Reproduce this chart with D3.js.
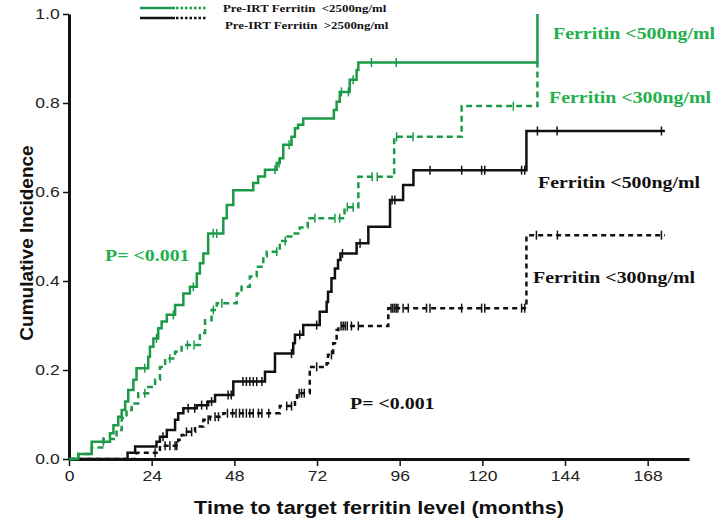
<!DOCTYPE html>
<html>
<head>
<meta charset="utf-8">
<script src="https://d3js.org/d3.v7.min.js"></script>
<style>
    body { margin: 0; background: #fff; }
</style>
</head>
<body>
<div id="canvas"></div>
<script>
"use strict"

/* data: step times (months), cumulative incidence, censor times */
let greenSolidT = [0, 2.7, 6.6, 11.9, 12.9, 14.3, 15.3, 16.3, 17.2, 18.7, 19.6, 23, 23.5, 24.5, 25.9, 26.9, 28.4, 30.8, 33.2, 35.1, 37.1, 38, 39, 40.4, 44.8, 45.8, 47.7, 53.5, 54.9, 56.9, 60.3, 61.2, 62.2, 64.6, 65.6, 66.5, 68, 76.9, 77.7, 78.6, 81.5, 83.5, 84, 136];
let greenSolidV = [0, 0.011, 0.039, 0.058, 0.076, 0.095, 0.11, 0.129, 0.155, 0.178, 0.204, 0.23, 0.252, 0.271, 0.294, 0.309, 0.324, 0.346, 0.372, 0.387, 0.417, 0.44, 0.462, 0.507, 0.541, 0.571, 0.604, 0.62, 0.635, 0.65, 0.665, 0.676, 0.706, 0.724, 0.743, 0.751, 0.765, 0.784, 0.803, 0.825, 0.852, 0.874, 0.891, 1.0];
let greenSolidCens = [10, 22, 25.4, 30.3, 36.1, 41.9, 42.9, 59.8, 61, 63.9, 79.1, 81.1, 82.5, 87.8, 95];

let greenDashT = [0, 2.7, 6.6, 10, 13.8, 15.3, 16.7, 18.2, 20.1, 23, 25, 26.4, 27.9, 30.8, 32.7, 38, 39.5, 41.4, 42.9, 48.7, 50.1, 52.5, 54.5, 56.4, 57.4, 61.2, 63.5, 65.1, 67, 69.3, 80, 84, 94.4, 114, 136];
let greenDashV = [0, 0.011, 0.026, 0.045, 0.065, 0.092, 0.11, 0.125, 0.148, 0.162, 0.178, 0.207, 0.226, 0.241, 0.256, 0.283, 0.312, 0.335, 0.35, 0.372, 0.387, 0.41, 0.432, 0.455, 0.466, 0.49, 0.5, 0.507, 0.52, 0.541, 0.566, 0.634, 0.724, 0.793, 0.891];
let greenDashCens = [22, 29.3, 34.4, 36.3, 41.9, 44.4, 60.3, 62.8, 71.4, 77.2, 78.6, 80.8, 82.5, 88, 89.5, 95.1, 99.9, 129];

let blackSolidT = [0, 17, 19.2, 25.4, 26.4, 28.4, 30.8, 31.7, 33.2, 37.1, 40.4, 42.4, 47.7, 56.9, 59.8, 65.1, 65.6, 68, 72.8, 74.8, 75.2, 76.2, 77.2, 78.1, 78.8, 83.5, 86.9, 93.2, 97, 100, 132.8, 173];
let blackSolidV = [0, 0.014, 0.028, 0.039, 0.05, 0.065, 0.088, 0.103, 0.114, 0.121, 0.129, 0.144, 0.174, 0.196, 0.237, 0.26, 0.279, 0.301, 0.331, 0.353, 0.376, 0.406, 0.428, 0.447, 0.462, 0.485, 0.522, 0.582, 0.616, 0.649, 0.737, 0.737];
let blackSolidCens = [27.3, 34.6, 36.5, 38.5, 40, 41.4, 46.2, 47.1, 50.5, 51.5, 52.5, 53.5, 54.5, 56, 64.6, 67, 71.9, 79.4, 84.5, 93.8, 94.6, 104.8, 114, 119.8, 120.7, 131.4, 132.3, 136, 141.7, 172];

let blackDashT = [0, 19.6, 26.4, 31.7, 32.7, 33.5, 36.6, 39, 40.9, 44.8, 61.2, 65.6, 66.2, 69.9, 74.8, 75.2, 76.7, 77.7, 78.2, 92.7, 132.8, 173];
let blackDashV = [0, 0.014, 0.03, 0.043, 0.054, 0.061, 0.073, 0.088, 0.095, 0.103, 0.119, 0.133, 0.148, 0.207, 0.215, 0.234, 0.26, 0.29, 0.299, 0.339, 0.503, 0.503];
let blackDashCens = [25, 27.9, 29.3, 30.8, 31.3, 34.1, 35.6, 40.4, 42.4, 43.4, 46, 47.5, 48.5, 49.5, 50.5, 51.5, 52.5, 53.5, 55, 56, 58, 63.2, 64.6, 66.8, 67.5, 68.3, 71.9, 76.2, 79, 79.6, 80.2, 80.8, 82, 84, 93.5, 94, 94.5, 95, 95.5, 97, 98.5, 103.8, 104.8, 114, 119.8, 120.7, 131.4, 132.3, 135.7, 141.8, 172];

let xTicks = [0, 24, 48, 72, 96, 120, 144, 168];
let yTicks = [0, 0.2, 0.4, 0.6, 0.8, 1.0];

let green = "#1c9a48";
let greenText = "#22b04b";
/* the original picture is a bit wider than tall, so text gets stretched sideways */
let stretch = 1.17;

/* the svg canvas */
let drawing = d3.select("#canvas")
    .append("svg")
    .attr("width", 719)
    .attr("height", 525);

drawing.append("rect")
    .attr("width", 719)
    .attr("height", 525)
    .attr("fill", "white");

/* scales */
let x = d3.scaleLinear().domain([0, 180]).range([69, 689]);
let y = d3.scaleLinear().domain([0, 1]).range([459, 14]);

/* axes */
let xAxis = drawing.append("g")
    .attr("transform", "translate(0,459)")
    .call(d3.axisBottom(x).tickValues(xTicks).tickSize(7).tickSizeOuter(0).tickPadding(4));

let yAxis = drawing.append("g")
    .attr("transform", "translate(69,0)")
    .call(d3.axisLeft(y).tickValues(yTicks).tickFormat(d3.format(".1f")).tickSize(6).tickSizeOuter(0).tickPadding(2));

drawing.selectAll(".domain").attr("stroke", "#111").attr("stroke-width", 3);
drawing.selectAll(".tick line").attr("stroke", "#111").attr("stroke-width", 1.5);
drawing.selectAll(".tick text")
    .attr("font-family", "'Liberation Sans', Arial, sans-serif")
    .attr("font-size", 15)
    .attr("fill", "#222")
    .attr("transform", "scale(" + stretch + ",1)");

/* axis titles */
drawing.append("text")
    .attr("transform", "translate(379,514) scale(" + stretch + ",1)")
    .attr("text-anchor", "middle")
    .attr("font-family", "'Liberation Sans', Arial, sans-serif")
    .attr("font-weight", "bold")
    .attr("font-size", 18.5)
    .attr("fill", "#111")
    .text("Time to target ferritin level (months)");

drawing.append("text")
    .attr("transform", "translate(33,243) rotate(-90)")
    .attr("text-anchor", "middle")
    .attr("font-family", "'Liberation Sans', Arial, sans-serif")
    .attr("font-weight", "bold")
    .attr("font-size", 19)
    .attr("fill", "#111")
    .text("Cumulative Incidence");

/* step curve helper */
let stepLine = d3.line()
    .x(d => x(d[0]))
    .y(d => y(d[1]))
    .curve(d3.curveStepAfter);

function drawCurve(ts, vs, cens, color, dash) {
    let pts = ts.map((t, i) => [t, vs[i]]);
    drawing.append("path")
        .attr("d", stepLine(pts))
        .attr("fill", "none")
        .attr("stroke", color)
        .attr("stroke-width", 2.5)
        .attr("stroke-dasharray", dash);

    // censor ticks sit on the curve value at that time
    drawing.selectAll(null)
        .data(cens)
        .enter()
        .append("line")
        .attr("x1", d => x(d))
        .attr("x2", d => x(d))
        .attr("y1", d => y(vs[d3.bisectRight(ts, d) - 1]) - 4.5)
        .attr("y2", d => y(vs[d3.bisectRight(ts, d) - 1]) + 4.5)
        .attr("stroke", color)
        .attr("stroke-width", 1.5);
}

drawCurve(blackDashT, blackDashV, blackDashCens, "#111", "5,4");
drawCurve(blackSolidT, blackSolidV, blackSolidCens, "#111", null);
drawCurve(greenDashT, greenDashV, greenDashCens, green, "6,4");
drawCurve(greenSolidT, greenSolidV, greenSolidCens, green, null);

/* legend */
let legendRows = [
    { color: green, label: "Pre-IRT Ferritin  <2500ng/ml", ly: 8, tx: 223, ty: 12 },
    { color: "#111", label: "Pre-IRT Ferritin  >2500ng/ml", ly: 18, tx: 225, ty: 29 }
];
legendRows.forEach(r => {
    drawing.append("line")
        .attr("x1", 140).attr("x2", 175)
        .attr("y1", r.ly).attr("y2", r.ly)
        .attr("stroke", r.color).attr("stroke-width", 2.5);
    drawing.append("line")
        .attr("x1", 176).attr("x2", 207)
        .attr("y1", r.ly).attr("y2", r.ly)
        .attr("stroke", r.color).attr("stroke-width", 2.5)
        .attr("stroke-dasharray", "2.5,2");
    drawing.append("text")
        .attr("transform", "translate(" + r.tx + "," + r.ty + ") scale(" + stretch + ",1)")
        .attr("font-family", "'Liberation Serif', 'Times New Roman', serif")
        .attr("font-weight", "bold")
        .attr("font-size", 11)
        .attr("fill", "#111")
        .style("white-space", "pre")
        .text(r.label);
});

/* curve labels */
let labels = [
    { text: "Ferritin <500ng/ml", x: 553, y: 39, color: greenText },
    { text: "Ferritin <300ng/ml", x: 549, y: 103, color: greenText },
    { text: "Ferritin <500ng/ml", x: 538, y: 188, color: "#111" },
    { text: "Ferritin <300ng/ml", x: 533, y: 283, color: "#111" },
    { text: "P= <0.001", x: 105, y: 261, color: greenText },
    { text: "P= <0.001", x: 350, y: 409, color: "#111" }
];
labels.forEach(l => {
    drawing.append("text")
        .attr("transform", "translate(" + l.x + "," + l.y + ") scale(" + stretch + ",1)")
        .attr("font-family", "'Liberation Serif', 'Times New Roman', serif")
        .attr("font-weight", "bold")
        .attr("font-size", 17)
        .attr("fill", l.color)
        .text(l.text);
});
</script>
</body>
</html>
